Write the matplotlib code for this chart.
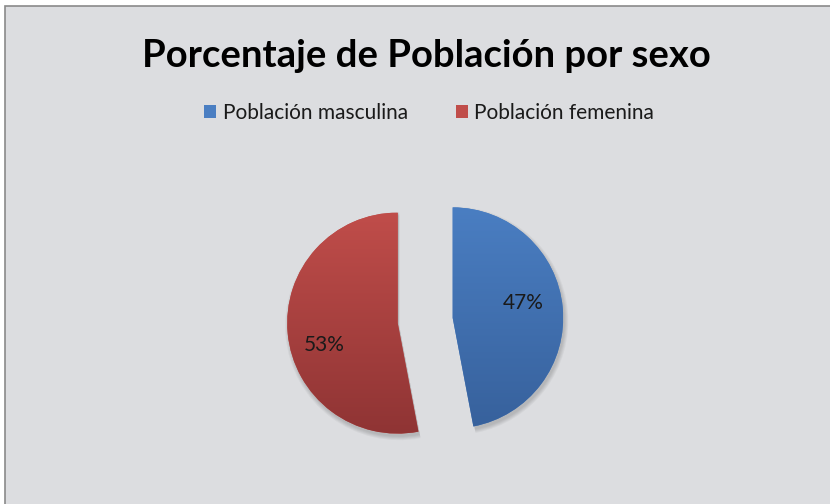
import numpy as np
import matplotlib.pyplot as plt
from matplotlib.patches import Rectangle, Wedge
from matplotlib.colors import LinearSegmentedColormap

# Datos del grafico
categorias = ['Población masculina', 'Población femenina']
porcentajes = [47, 53]
colores = ['#4a7ec2', '#c04d4a']        # color base (leyenda)
colores_abajo = ['#37619c', '#8f3434']  # parte baja del degradado
titulo = 'Porcentaje de Población por sexo'

W, H = 830, 504
plt.rcParams['font.family'] = ['Lato', 'DejaVu Sans']

fig = plt.figure(figsize=(W / 100, H / 100), dpi=100)
fig.patch.set_facecolor('white')
# recuadro gris del area del grafico
fig.patches.append(Rectangle((5 / W, -0.01), 1.02, 1 - 6 / H + 0.01,
                             transform=fig.transFigure, facecolor='#dcdde0',
                             edgecolor='#8a8a8a', linewidth=1.2, zorder=-1))

ax = fig.add_axes([0, 0, 1, 1])
ax.set_facecolor('none')

wedges, textos, pcts = ax.pie(
    porcentajes, startangle=90, counterclock=False,
    radius=110.5, center=(425.2, H - 320.5), explode=[27.6, 27.6],
    colors=colores, autopct='%1.0f%%',
    wedgeprops=dict(linewidth=0),
    textprops=dict(fontsize=15, color='#1a1a1a'))

# degradado vertical y sombra de cada porcion
for w, c_top, c_bot in zip(wedges, colores, colores_abajo):
    cx, cy = w.center
    r = w.r
    for k in range(5):
        sombra = Wedge((cx + 1.5, cy - 3), r + k * 0.9, w.theta1, w.theta2,
                       facecolor='black', alpha=0.035, linewidth=0, zorder=0.5)
        ax.add_patch(sombra)
    grad = np.linspace(0, 1, 256).reshape(-1, 1)
    cmap = LinearSegmentedColormap.from_list('g', [c_bot, c_top])
    im = ax.imshow(grad, extent=(cx - r, cx + r, cy - r, cy + r), origin='lower',
                   cmap=cmap, aspect='auto', zorder=w.get_zorder() + 0.1)
    im.set_clip_path(w)

# posicion de las etiquetas de porcentaje (como en Excel)
for w, t, ang, dist in zip(wedges, pcts, [11.8, 196.7], [72, 76.6]):
    cx, cy = w.center
    t.set_position((cx + dist * np.cos(np.radians(ang)),
                    cy + dist * np.sin(np.radians(ang))))
    t.set_zorder(5)

ax.set_xlim(0, W)
ax.set_ylim(0, H)
ax.set_aspect('equal')
ax.axis('off')

fig.text(426 / W, 1 - 67 / H, titulo, ha='center', va='baseline',
         fontsize=27.5, fontweight='bold', color='black')

fig.legend(wedges, categorias, loc='center', bbox_to_anchor=(429 / W, 1 - 113 / H),
           ncol=2, frameon=False, fontsize=15, handlelength=0.6, handleheight=0.6,
           handletextpad=0.3, columnspacing=2.3, labelcolor='#1a1a1a')

fig.savefig('out.png', dpi=100, facecolor=fig.get_facecolor())
